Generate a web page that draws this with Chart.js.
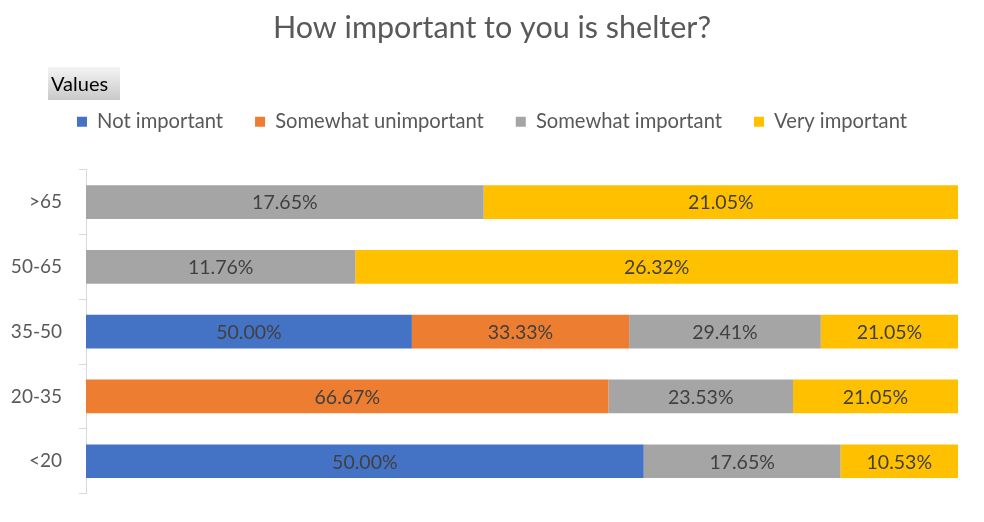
<!DOCTYPE html>
<html>
<head>
<meta charset="utf-8">
<script src="https://cdn.jsdelivr.net/npm/chart.js@4/dist/chart.umd.min.js"></script>
<style>
  html, body { margin: 0; padding: 0; background: #fff; }
  #wrap { width: 984px; height: 522px; }
</style>
</head>
<body>
<div id="wrap"><canvas id="chart"></canvas></div>
<script>
const FONT = "Lato, 'Open Sans', sans-serif";

const ageGroups = [">65", "50-65", "35-50", "20-35", "<20"];
const seriesNames = ["Not important", "Somewhat unimportant", "Somewhat important", "Very important"];
const seriesColors = ["#4472C4", "#ED7D31", "#A5A5A5", "#FFC000"];

// % of column values, one array per answer (null = no responses)
const notImportant = [null, null, 50.00, null, 50.00];
const somewhatUnimportant = [null, null, 33.33, 66.67, null];
const somewhatImportant = [17.65, 11.76, 29.41, 23.53, 17.65];
const veryImportant = [21.05, 26.32, 21.05, 21.05, 10.53];

const series = [notImportant, somewhatUnimportant, somewhatImportant, veryImportant];

// 100% stacked: each bar is scaled to its row total
const rowTotals = ageGroups.map((_, i) => series.reduce((s, arr) => s + (arr[i] || 0), 0));

const datasets = series.map((vals, k) => ({
  label: seriesNames[k],
  data: vals.map((v, i) => (v == null ? null : v / rowTotals[i] * 100)),
  raw: vals,
  backgroundColor: seriesColors[k],
  borderWidth: 0,
  barPercentage: 0.52,
  categoryPercentage: 1.0
}));

// value labels in the middle of each segment
const segmentLabels = {
  id: "segmentLabels",
  afterDatasetsDraw(chart) {
    const ctx = chart.ctx;
    ctx.save();
    ctx.font = "19.5px " + FONT;
    ctx.fillStyle = "#404040";
    ctx.textAlign = "center";
    ctx.textBaseline = "middle";
    chart.data.datasets.forEach((ds, k) => {
      chart.getDatasetMeta(k).data.forEach((bar, i) => {
        const v = ds.raw[i];
        if (v == null) return;
        const cx = (bar.x + bar.base) / 2;
        ctx.fillText(v.toFixed(2) + "%", cx, bar.y + 1);
      });
    });
    ctx.restore();
  }
};

// title and legend are centred on the full canvas, not the padded area
const centerHeader = {
  id: "centerHeader",
  afterLayout(chart) {
    const shift = 13;
    [chart.titleBlock, chart.legend].forEach(box => {
      if (!box) return;
      box.left += shift;
      box.right += shift;
    });
  }
};

// pivot field button above the legend
const fieldButton = {
  id: "fieldButton",
  afterDraw(chart) {
    const ctx = chart.ctx;
    const x = 48, y = 67, w = 72, h = 33;
    ctx.save();
    const g = ctx.createLinearGradient(0, y, 0, y + h);
    g.addColorStop(0, "#f4f4f4");
    g.addColorStop(1, "#c9c9c9");
    ctx.fillStyle = g;
    ctx.fillRect(x, y, w, h);
    ctx.font = "20px " + FONT;
    ctx.fillStyle = "#000";
    ctx.textBaseline = "middle";
    ctx.fillText("Values", x + 3, y + h / 2 + 1);
    ctx.restore();
  }
};

new Chart(document.getElementById("chart"), {
  type: "bar",
  data: { labels: ageGroups, datasets },
  options: {
    indexAxis: "y",
    responsive: true,
    maintainAspectRatio: false,
    animation: false,
    layout: { padding: { left: 0, right: 26, top: 0, bottom: 18 } },
    scales: {
      x: {
        stacked: true,
        position: "top",
        min: 0,
        max: 100,
        ticks: { display: false },
        grid: { display: false },
        border: { display: false },
        afterFit(scale) { scale.height = 28; }
      },
      y: {
        stacked: true,
        ticks: { color: "#595959", font: { family: FONT, size: 19 }, padding: 17 },
        grid: { drawOnChartArea: false, drawTicks: true, tickLength: 7, color: "#d9d9d9", offset: true },
        border: { display: true, color: "#d9d9d9" },
        afterFit(scale) { scale.width = 86; }
      }
    },
    plugins: {
      title: {
        display: true,
        text: "How important to you is shelter?",
        color: "#595959",
        font: { family: FONT, size: 30.5, weight: "normal" },
        padding: { top: 10, bottom: 33 }
      },
      legend: {
        position: "top",
        align: "center",
        labels: {
          color: "#595959",
          font: { family: FONT, size: 20.2 },
          boxWidth: 10,
          boxHeight: 10,
          padding: 32
        }
      },
      tooltip: { enabled: false }
    }
  },
  plugins: [segmentLabels, centerHeader, fieldButton]
});
</script>
</body>
</html>
